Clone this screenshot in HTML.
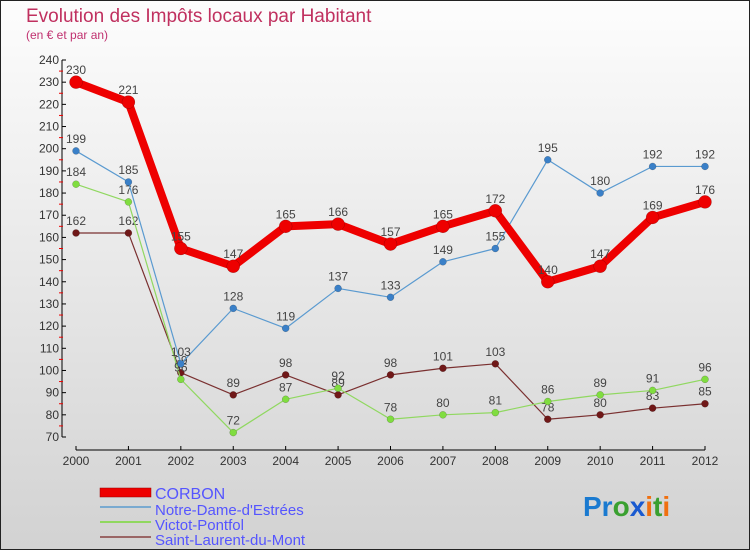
<!DOCTYPE html>
<html><head><meta charset="utf-8"><style>
body{margin:0;}
svg text{font-family:"Liberation Sans",sans-serif;}
</style></head><body>
<svg width="750" height="550" xmlns="http://www.w3.org/2000/svg">
<defs><linearGradient id="bg" x1="0" y1="0" x2="0" y2="1"><stop offset="0" stop-color="#fdfdfd"/><stop offset="1" stop-color="#d2d2d2"/></linearGradient></defs>
<rect x="0.5" y="0.5" width="749" height="549" fill="url(#bg)" stroke="#222"/>
<text x="26" y="22" font-size="19" fill="#c0305f">Evolution des Impôts locaux par Habitant</text>
<text x="26" y="39" font-size="12" fill="#c0306f">(en € et par an)</text>
<g id="axes"></g>
<g id="series"></g>
<g>
<rect x="100" y="488" width="51" height="9" fill="#e00" stroke="#900" stroke-width="0.5"/>
<line x1="100" y1="507" x2="151" y2="507" stroke="#7aaad0" stroke-width="2"/>
<line x1="100" y1="522" x2="151" y2="522" stroke="#90d860" stroke-width="2"/>
<line x1="100" y1="537" x2="151" y2="537" stroke="#9a6666" stroke-width="2"/>
<text x="155" y="499" font-size="16" fill="#5555ff">CORBON</text>
<text x="155" y="515" font-size="15" fill="#5555ff">Notre-Dame-d'Estrées</text>
<text x="155" y="530" font-size="15" fill="#5555ff">Victot-Pontfol</text>
<text x="155" y="545" font-size="15" fill="#5555ff">Saint-Laurent-du-Mont</text>
</g>
<g font-size="28" font-weight="bold">
<text x="583" y="516"><tspan fill="#1a7ad0">Pr</tspan><tspan fill="#3aa030">o</tspan><tspan fill="#1a5ad0">x</tspan><tspan fill="#f07010">i</tspan><tspan fill="#3aa030">t</tspan><tspan fill="#f07010">i</tspan></text>
</g>
</svg>
<script>
const years=[2000,2001,2002,2003,2004,2005,2006,2007,2008,2009,2010,2011,2012];
const corbon=[230,221,155,147,165,166,157,165,172,140,147,169,176];
const notreDame=[199,185,103,128,119,137,133,149,155,195,180,192,192];
const victot=[184,176,96,72,87,92,78,80,81,86,89,91,96];
const saintLaurent=[162,162,99,89,98,89,98,101,103,78,80,83,85];
const yTicks=[70,80,90,100,110,120,130,140,150,160,170,180,190,200,210,220,230,240];
const NS="http://www.w3.org/2000/svg";
const X=i=>76+i*(705-76)/12;
const Y=v=>437-(v-70)*(437-60)/170;
function mk(t,a,p){const e=document.createElementNS(NS,t);for(const k in a)e.setAttribute(k,a[k]);p.appendChild(e);return e;}
const ax=document.getElementById('axes');
mk('line',{x1:62,y1:60,x2:62,y2:437,stroke:'#000'},ax);
mk('line',{x1:76,y1:450,x2:705,y2:450,stroke:'#000'},ax);
yTicks.forEach(v=>{
 mk('line',{x1:62,y1:Y(v),x2:66,y2:Y(v),stroke:'#000'},ax);
 if(v<240) mk('line',{x1:59,y1:Y(v+5),x2:63,y2:Y(v+5),stroke:'#e00'},ax);
 const t=mk('text',{x:59,y:Y(v)+4,'font-size':12,fill:'#333','text-anchor':'end'},ax);
 
 
 t.textContent=v;
});
years.forEach((y,i)=>{
 mk('line',{x1:X(i),y1:446,x2:X(i),y2:450,stroke:'#000'},ax);
 const t=mk('text',{x:X(i),y:465,'font-size':12,fill:'#333','text-anchor':'middle'},ax);
 
 
 t.textContent=y;
});
const sg=document.getElementById('series');
function draw(data,name,color,dot,w,r){
 const g=mk('g',{},sg);
 
 
 mk('polyline',{points:data.map((v,i)=>X(i)+','+Y(v)).join(' '),fill:'none',stroke:color,'stroke-width':w,'stroke-linejoin':'round'},g);
 data.forEach((v,i)=>{
  const c=mk('circle',{cx:X(i),cy:Y(v),r:r,fill:dot,stroke:'rgba(0,0,0,0.3)','stroke-width':0.5},g);
  
  
  const t=mk('text',{x:X(i),y:Y(v)-8,'font-size':12,fill:'#444','text-anchor':'middle'},g);
  
  
  t.textContent=v;
 });
}
draw(saintLaurent,'saint-laurent-series','#7a3030','#701818',1.2,3.5);
draw(victot,'victot-series','#90d860','#80dd40',1.2,3.5);
draw(notreDame,'notre-dame-series','#5a9ad0','#3a80c8',1.2,3.5);
draw(corbon,'corbon-series','#ee0000','#ee0000',8,6.5);
</script>
</body></html>
